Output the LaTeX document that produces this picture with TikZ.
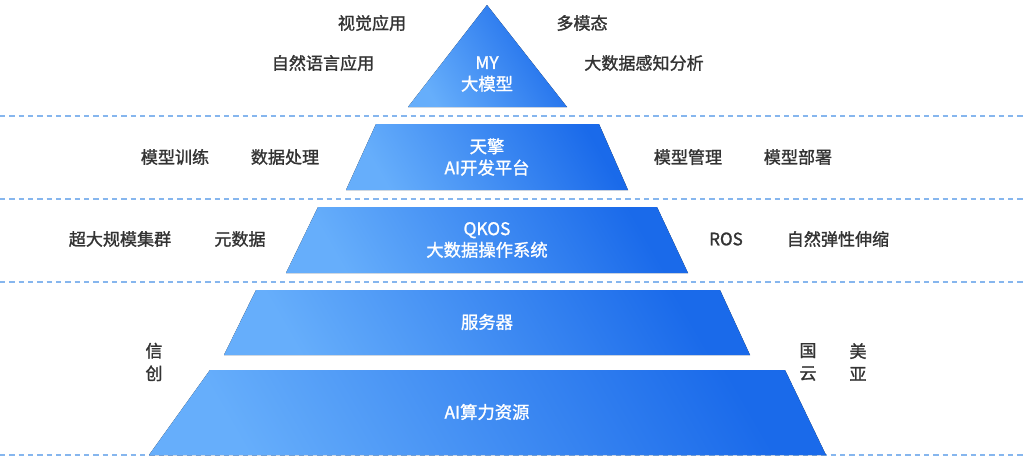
\documentclass[tikz,border=0pt]{standalone}
\usepackage{fontspec}
\setmainfont{Noto Sans CJK SC}
\newfontfamily\medf[FakeBold=1.3]{Noto Sans CJK SC}
\begin{document}
\begin{tikzpicture}[x=0.75pt,y=-0.75pt,
  layer/.style={left color=lyl,right color=lyr,shading angle=120,draw=none},
  lbl/.style={text=white,font=\medf\fontsize{13pt}{16pt}\selectfont,align=center},
  side/.style={text=txtg,font=\medf\fontsize{12.8pt}{17pt}\selectfont,align=center},
  sep/.style={draw=sepc,dashed,dash pattern=on 4pt off 3pt,line width=0.9pt}]
\definecolor{lyl}{HTML}{66AEFB}
\definecolor{lyr}{HTML}{1A6AEA}
\definecolor{txtg}{HTML}{333333}
\definecolor{sepc}{HTML}{86B6EE}
\useasboundingbox (0,0) rectangle (1026,471);
\fill[white] (0,0) rectangle (1026,471);
\foreach \y in {116,199,282,455} \draw[sep] (0,\y) -- (1026,\y);
\fill[layer] (487,5) -- (567,107) -- (408,107) -- cycle;
\fill[layer] (376,124) -- (599,124) -- (628,190) -- (346,190) -- cycle;
\fill[layer] (318,207) -- (657,207) -- (688,273) -- (286,273) -- cycle;
\fill[layer] (256,290) -- (720,290) -- (750,355) -- (224,355) -- cycle;
\fill[layer] (210,370) -- (785,370) -- (826,455) -- (149,455) -- cycle;
\node[lbl] (l1) at (487,74) {MY\\大模型};
\node[lbl] (l2) at (487,157) {天擎\\AI开发平台};
\node[lbl] (l3) at (487,240) {QKOS\\大数据操作系统};
\node[lbl] (l4) at (487,322) {服务器};
\node[lbl] (l5) at (487,412) {AI算力资源};
\node[side] (a1) at (372,23) {视觉应用};
\node[side] (a2) at (582,23) {多模态};
\node[side] (a3) at (323,63) {自然语言应用};
\node[side] (a4) at (644,63) {大数据感知分析};
\node[side] (b1) at (175,157) {模型训练};
\node[side] (b2) at (285,157) {数据处理};
\node[side] (b3) at (688,157) {模型管理};
\node[side] (b4) at (798,157) {模型部署};
\node[side] (c1) at (120,239) {超大规模集群};
\node[side] (c2) at (240,239) {元数据};
\node[side] (c3) at (726,239) {ROS};
\node[side] (c4) at (838,239) {自然弹性伸缩};
\node[side] (d1) at (154,362) {信\\创};
\node[side] (d2) at (808,362) {国\\云};
\node[side] (d3) at (858,362) {美\\亚};
\end{tikzpicture}
\end{document}
